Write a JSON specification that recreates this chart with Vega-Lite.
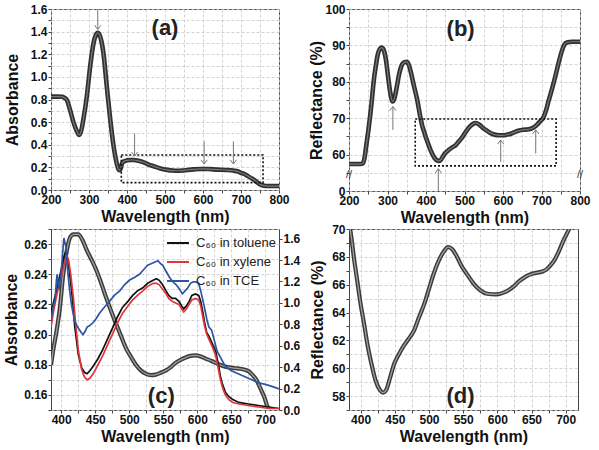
{
  "$schema": "https://vega.github.io/schema/vega-lite/v6.json",
  "background": "white",
  "padding": {"left": 3, "top": 2, "right": 4, "bottom": 4},
  "columns": 2,
  "spacing": {"row": 38, "column": 70},
  "bounds": "flush",
  "resolve": {"scale": {"color": "independent"}, "legend": {"color": "independent"}},
  "config": {
    "view": {"stroke": "#444", "strokeWidth": 1},
    "axis": {"labelFont": "Liberation Sans", "labelFontWeight": "bold", "labelFontSize": 12, "labelColor": "#111", "titleFont": "Liberation Sans", "titleFontWeight": "bold", "titleFontSize": 16, "titleColor": "#111", "domain": false, "tickColor": "#444", "tickSize": 3, "labelPadding": 1, "gridColor": "#c8c8c8", "gridDash": [3, 2], "gridWidth": 0.8, "titlePadding": 3, "labelOverlap": false, "labelBound": false, "labelFlush": false},
    "text": {"font": "Liberation Sans"}
  },
  "datasets": {
    "a": [
      {"nm":200,"v":0.825},{"nm":215,"v":0.825},{"nm":230,"v":0.824},{"nm":235,"v":0.815},{"nm":241,"v":0.8},{"nm":250,"v":0.71},{"nm":259,"v":0.6},{"nm":268,"v":0.52},{"nm":274,"v":0.486},{"nm":280,"v":0.53},{"nm":285,"v":0.62},{"nm":294,"v":0.82},{"nm":303,"v":1.09},{"nm":312,"v":1.3},{"nm":318,"v":1.37},{"nm":323,"v":1.39},{"nm":328,"v":1.37},{"nm":333,"v":1.31},{"nm":338,"v":1.21},{"nm":347,"v":0.91},{"nm":356,"v":0.62},{"nm":365,"v":0.38},{"nm":372,"v":0.25},{"nm":378,"v":0.18},{"nm":381,"v":0.175},{"nm":384,"v":0.2},{"nm":387,"v":0.235},{"nm":393,"v":0.255},{"nm":400,"v":0.262},{"nm":410,"v":0.265},{"nm":418,"v":0.265},{"nm":430,"v":0.258},{"nm":444,"v":0.245},{"nm":457,"v":0.225},{"nm":470,"v":0.21},{"nm":488,"v":0.19},{"nm":506,"v":0.178},{"nm":520,"v":0.172},{"nm":532,"v":0.17},{"nm":545,"v":0.172},{"nm":559,"v":0.177},{"nm":575,"v":0.182},{"nm":594,"v":0.186},{"nm":615,"v":0.185},{"nm":638,"v":0.18},{"nm":660,"v":0.177},{"nm":682,"v":0.17},{"nm":692,"v":0.163},{"nm":700,"v":0.152},{"nm":709,"v":0.141},{"nm":717,"v":0.125},{"nm":727,"v":0.105},{"nm":735,"v":0.088},{"nm":742,"v":0.07},{"nm":748,"v":0.055},{"nm":753,"v":0.045},{"nm":761,"v":0.038},{"nm":770,"v":0.035},{"nm":785,"v":0.035},{"nm":800,"v":0.035}
    ],
    "b": [
      {"nm":200,"v":57.4},{"nm":215,"v":57.4},{"nm":230,"v":57.4},{"nm":236,"v":57.6},{"nm":240,"v":58.9},{"nm":245,"v":62.6},{"nm":251,"v":67.2},{"nm":259,"v":74.6},{"nm":264,"v":80},{"nm":269,"v":83.9},{"nm":275,"v":87.6},{"nm":280,"v":89},{"nm":285,"v":89.4},{"nm":290,"v":88.8},{"nm":296,"v":86},{"nm":302,"v":81},{"nm":308,"v":76.5},{"nm":313,"v":74.6},{"nm":318,"v":75.5},{"nm":324,"v":78.5},{"nm":330,"v":82},{"nm":336,"v":84.3},{"nm":344,"v":85.4},{"nm":350,"v":85.5},{"nm":356,"v":84.5},{"nm":362,"v":82},{"nm":370,"v":78.3},{"nm":378,"v":74.6},{"nm":385,"v":70.5},{"nm":390,"v":68.0},{"nm":395,"v":66.3},{"nm":400,"v":64.6},{"nm":405,"v":63.2},{"nm":410,"v":61.7},{"nm":415,"v":60.5},{"nm":422,"v":59.1},{"nm":428,"v":58.45},{"nm":433,"v":58.25},{"nm":438,"v":58.5},{"nm":443,"v":59.3},{"nm":449,"v":60.3},{"nm":456,"v":61.0},{"nm":463,"v":61.6},{"nm":470,"v":62.1},{"nm":478,"v":62.7},{"nm":485,"v":63.6},{"nm":493,"v":64.6},{"nm":500,"v":65.7},{"nm":507,"v":66.8},{"nm":515,"v":67.8},{"nm":522,"v":68.4},{"nm":528,"v":68.7},{"nm":534,"v":68.55},{"nm":540,"v":68.1},{"nm":547,"v":67.4},{"nm":555,"v":66.8},{"nm":565,"v":66.1},{"nm":575,"v":65.6},{"nm":585,"v":65.35},{"nm":598,"v":65.3},{"nm":610,"v":65.45},{"nm":622,"v":65.8},{"nm":632,"v":66.25},{"nm":642,"v":66.6},{"nm":652,"v":66.8},{"nm":666,"v":66.95},{"nm":672,"v":67.1},{"nm":678,"v":67.4},{"nm":684,"v":67.8},{"nm":690,"v":68.4},{"nm":697,"v":69.2},{"nm":704,"v":70.0},{"nm":712,"v":72.2},{"nm":718,"v":74.6},{"nm":727,"v":77.9},{"nm":735,"v":81.1},{"nm":744,"v":85.0},{"nm":753,"v":88.5},{"nm":760,"v":90.3},{"nm":766,"v":90.8},{"nm":780,"v":91.0},{"nm":800,"v":91.0}
    ],
    "d": [
      {"nm":384,"v":70.2},{"nm":387,"v":69.2},{"nm":390,"v":68.0},{"nm":395,"v":66.3},{"nm":400,"v":64.6},{"nm":405,"v":63.2},{"nm":410,"v":61.7},{"nm":415,"v":60.5},{"nm":422,"v":59.1},{"nm":428,"v":58.45},{"nm":433,"v":58.25},{"nm":438,"v":58.5},{"nm":443,"v":59.3},{"nm":449,"v":60.3},{"nm":456,"v":61.0},{"nm":463,"v":61.6},{"nm":470,"v":62.1},{"nm":478,"v":62.7},{"nm":485,"v":63.6},{"nm":493,"v":64.6},{"nm":500,"v":65.7},{"nm":507,"v":66.8},{"nm":515,"v":67.8},{"nm":522,"v":68.4},{"nm":528,"v":68.7},{"nm":534,"v":68.55},{"nm":540,"v":68.1},{"nm":547,"v":67.4},{"nm":555,"v":66.8},{"nm":565,"v":66.1},{"nm":575,"v":65.6},{"nm":585,"v":65.35},{"nm":598,"v":65.3},{"nm":610,"v":65.45},{"nm":622,"v":65.8},{"nm":632,"v":66.25},{"nm":642,"v":66.6},{"nm":652,"v":66.8},{"nm":666,"v":66.95},{"nm":672,"v":67.1},{"nm":678,"v":67.4},{"nm":684,"v":67.8},{"nm":690,"v":68.4},{"nm":697,"v":69.2},{"nm":704,"v":69.9},{"nm":710,"v":70.6}
    ],
    "cg": [
      {"nm":385,"v":0.42},{"nm":388,"v":0.55},{"nm":393,"v":0.73},{"nm":398,"v":0.95},{"nm":403,"v":1.27},{"nm":408,"v":1.48},{"nm":413,"v":1.61},{"nm":418,"v":1.64},{"nm":425,"v":1.64},{"nm":431,"v":1.59},{"nm":437,"v":1.5},{"nm":444,"v":1.41},{"nm":452,"v":1.3},{"nm":459,"v":1.18},{"nm":466,"v":1.05},{"nm":473,"v":0.93},{"nm":481,"v":0.8},{"nm":488,"v":0.69},{"nm":495,"v":0.58},{"nm":503,"v":0.49},{"nm":510,"v":0.42},{"nm":517,"v":0.37},{"nm":524,"v":0.34},{"nm":532,"v":0.325},{"nm":539,"v":0.33},{"nm":547,"v":0.35},{"nm":554,"v":0.37},{"nm":561,"v":0.4},{"nm":568,"v":0.44},{"nm":576,"v":0.47},{"nm":583,"v":0.49},{"nm":590,"v":0.505},{"nm":597,"v":0.51},{"nm":605,"v":0.5},{"nm":612,"v":0.48},{"nm":620,"v":0.46},{"nm":627,"v":0.44},{"nm":634,"v":0.42},{"nm":641,"v":0.405},{"nm":649,"v":0.395},{"nm":656,"v":0.39},{"nm":663,"v":0.385},{"nm":670,"v":0.375},{"nm":676,"v":0.36},{"nm":682,"v":0.32},{"nm":687,"v":0.28},{"nm":690,"v":0.24},{"nm":695,"v":0.17},{"nm":699,"v":0.11},{"nm":702,"v":0.05},{"nm":704,"v":0.02}
    ],
    "c": [
      {"series":"toluene","nm":385,"v":0.214},{"series":"toluene","nm":389,"v":0.222},{"series":"toluene","nm":393,"v":0.229},{"series":"toluene","nm":397,"v":0.237},{"series":"toluene","nm":401,"v":0.245},{"series":"toluene","nm":404,"v":0.252},{"series":"toluene","nm":407,"v":0.255},{"series":"toluene","nm":410,"v":0.249},{"series":"toluene","nm":413,"v":0.238},{"series":"toluene","nm":416,"v":0.226},{"series":"toluene","nm":420,"v":0.205},{"series":"toluene","nm":425,"v":0.187},{"series":"toluene","nm":430,"v":0.178},{"series":"toluene","nm":434,"v":0.175},{"series":"toluene","nm":438,"v":0.174},{"series":"toluene","nm":442,"v":0.176},{"series":"toluene","nm":447,"v":0.179},{"series":"toluene","nm":454,"v":0.184},{"series":"toluene","nm":461,"v":0.19},{"series":"toluene","nm":468,"v":0.197},{"series":"toluene","nm":476,"v":0.205},{"series":"toluene","nm":483,"v":0.212},{"series":"toluene","nm":490,"v":0.218},{"series":"toluene","nm":498,"v":0.222},{"series":"toluene","nm":505,"v":0.226},{"series":"toluene","nm":512,"v":0.229},{"series":"toluene","nm":520,"v":0.231},{"series":"toluene","nm":527,"v":0.234},{"series":"toluene","nm":535,"v":0.236},{"series":"toluene","nm":540,"v":0.237},{"series":"toluene","nm":544,"v":0.236},{"series":"toluene","nm":549,"v":0.233},{"series":"toluene","nm":554,"v":0.229},{"series":"toluene","nm":558,"v":0.226},{"series":"toluene","nm":563,"v":0.224},{"series":"toluene","nm":568,"v":0.224},{"series":"toluene","nm":573,"v":0.222},{"series":"toluene","nm":577,"v":0.219},{"series":"toluene","nm":580,"v":0.217},{"series":"toluene","nm":584,"v":0.219},{"series":"toluene","nm":588,"v":0.222},{"series":"toluene","nm":592,"v":0.226},{"series":"toluene","nm":597,"v":0.227},{"series":"toluene","nm":602,"v":0.226},{"series":"toluene","nm":605,"v":0.222},{"series":"toluene","nm":608,"v":0.215},{"series":"toluene","nm":611,"v":0.207},{"series":"toluene","nm":614,"v":0.201},{"series":"toluene","nm":617,"v":0.199},{"series":"toluene","nm":622,"v":0.194},{"series":"toluene","nm":627,"v":0.189},{"series":"toluene","nm":631,"v":0.18},{"series":"toluene","nm":634,"v":0.172},{"series":"toluene","nm":637,"v":0.167},{"series":"toluene","nm":641,"v":0.162},{"series":"toluene","nm":646,"v":0.159},{"series":"toluene","nm":652,"v":0.157},{"series":"toluene","nm":661,"v":0.155},{"series":"toluene","nm":675,"v":0.154},{"series":"toluene","nm":690,"v":0.153},{"series":"toluene","nm":705,"v":0.152},{"series":"toluene","nm":720,"v":0.151},
      {"series":"xylene","nm":385,"v":0.205},{"series":"xylene","nm":389,"v":0.216},{"series":"xylene","nm":393,"v":0.225},{"series":"xylene","nm":397,"v":0.233},{"series":"xylene","nm":401,"v":0.24},{"series":"xylene","nm":405,"v":0.248},{"series":"xylene","nm":408,"v":0.253},{"series":"xylene","nm":411,"v":0.249},{"series":"xylene","nm":414,"v":0.24},{"series":"xylene","nm":418,"v":0.224},{"series":"xylene","nm":421,"v":0.208},{"series":"xylene","nm":425,"v":0.19},{"series":"xylene","nm":430,"v":0.177},{"series":"xylene","nm":434,"v":0.172},{"series":"xylene","nm":438,"v":0.17},{"series":"xylene","nm":442,"v":0.171},{"series":"xylene","nm":447,"v":0.174},{"series":"xylene","nm":454,"v":0.18},{"series":"xylene","nm":461,"v":0.186},{"series":"xylene","nm":468,"v":0.193},{"series":"xylene","nm":476,"v":0.201},{"series":"xylene","nm":483,"v":0.208},{"series":"xylene","nm":490,"v":0.214},{"series":"xylene","nm":498,"v":0.219},{"series":"xylene","nm":505,"v":0.223},{"series":"xylene","nm":512,"v":0.226},{"series":"xylene","nm":520,"v":0.229},{"series":"xylene","nm":527,"v":0.232},{"series":"xylene","nm":535,"v":0.234},{"series":"xylene","nm":540,"v":0.234},{"series":"xylene","nm":544,"v":0.233},{"series":"xylene","nm":549,"v":0.23},{"series":"xylene","nm":554,"v":0.227},{"series":"xylene","nm":558,"v":0.224},{"series":"xylene","nm":563,"v":0.222},{"series":"xylene","nm":568,"v":0.221},{"series":"xylene","nm":573,"v":0.22},{"series":"xylene","nm":577,"v":0.217},{"series":"xylene","nm":580,"v":0.215},{"series":"xylene","nm":584,"v":0.217},{"series":"xylene","nm":588,"v":0.22},{"series":"xylene","nm":592,"v":0.223},{"series":"xylene","nm":597,"v":0.224},{"series":"xylene","nm":602,"v":0.223},{"series":"xylene","nm":605,"v":0.219},{"series":"xylene","nm":608,"v":0.212},{"series":"xylene","nm":611,"v":0.205},{"series":"xylene","nm":614,"v":0.2},{"series":"xylene","nm":617,"v":0.197},{"series":"xylene","nm":622,"v":0.192},{"series":"xylene","nm":627,"v":0.186},{"series":"xylene","nm":631,"v":0.177},{"series":"xylene","nm":634,"v":0.17},{"series":"xylene","nm":637,"v":0.165},{"series":"xylene","nm":641,"v":0.16},{"series":"xylene","nm":646,"v":0.157},{"series":"xylene","nm":652,"v":0.155},{"series":"xylene","nm":661,"v":0.154},{"series":"xylene","nm":675,"v":0.153},{"series":"xylene","nm":690,"v":0.152},{"series":"xylene","nm":705,"v":0.151},{"series":"xylene","nm":720,"v":0.151},
      {"series":"TCE","nm":385,"v":0.209},{"series":"TCE","nm":388,"v":0.218},{"series":"TCE","nm":391,"v":0.223},{"series":"TCE","nm":393,"v":0.236},{"series":"TCE","nm":394,"v":0.24},{"series":"TCE","nm":396,"v":0.232},{"series":"TCE","nm":397,"v":0.231},{"series":"TCE","nm":399,"v":0.238},{"series":"TCE","nm":401,"v":0.247},{"series":"TCE","nm":403,"v":0.259},{"series":"TCE","nm":404,"v":0.264},{"series":"TCE","nm":405,"v":0.262},{"series":"TCE","nm":407,"v":0.258},{"series":"TCE","nm":408,"v":0.25},{"series":"TCE","nm":410,"v":0.24},{"series":"TCE","nm":412,"v":0.231},{"series":"TCE","nm":415,"v":0.22},{"series":"TCE","nm":418,"v":0.213},{"series":"TCE","nm":420,"v":0.209},{"series":"TCE","nm":424,"v":0.205},{"series":"TCE","nm":427,"v":0.203},{"series":"TCE","nm":430,"v":0.201},{"series":"TCE","nm":432,"v":0.2},{"series":"TCE","nm":435,"v":0.202},{"series":"TCE","nm":438,"v":0.205},{"series":"TCE","nm":442,"v":0.206},{"series":"TCE","nm":447,"v":0.208},{"series":"TCE","nm":452,"v":0.211},{"series":"TCE","nm":456,"v":0.214},{"series":"TCE","nm":463,"v":0.218},{"series":"TCE","nm":471,"v":0.222},{"series":"TCE","nm":478,"v":0.226},{"series":"TCE","nm":486,"v":0.229},{"series":"TCE","nm":493,"v":0.233},{"series":"TCE","nm":500,"v":0.236},{"series":"TCE","nm":508,"v":0.238},{"series":"TCE","nm":515,"v":0.24},{"series":"TCE","nm":521,"v":0.243},{"series":"TCE","nm":527,"v":0.246},{"series":"TCE","nm":532,"v":0.247},{"series":"TCE","nm":537,"v":0.248},{"series":"TCE","nm":542,"v":0.249},{"series":"TCE","nm":546,"v":0.247},{"series":"TCE","nm":549,"v":0.246},{"series":"TCE","nm":554,"v":0.242},{"series":"TCE","nm":559,"v":0.238},{"series":"TCE","nm":564,"v":0.235},{"series":"TCE","nm":569,"v":0.233},{"series":"TCE","nm":574,"v":0.23},{"series":"TCE","nm":578,"v":0.227},{"series":"TCE","nm":582,"v":0.229},{"series":"TCE","nm":586,"v":0.231},{"series":"TCE","nm":590,"v":0.234},{"series":"TCE","nm":594,"v":0.235},{"series":"TCE","nm":598,"v":0.235},{"series":"TCE","nm":602,"v":0.234},{"series":"TCE","nm":605,"v":0.229},{"series":"TCE","nm":610,"v":0.219},{"series":"TCE","nm":614,"v":0.21},{"series":"TCE","nm":617,"v":0.205},{"series":"TCE","nm":621,"v":0.203},{"series":"TCE","nm":625,"v":0.196},{"series":"TCE","nm":629,"v":0.189},{"series":"TCE","nm":635,"v":0.184},{"series":"TCE","nm":641,"v":0.179},{"series":"TCE","nm":650,"v":0.176},{"series":"TCE","nm":665,"v":0.173},{"series":"TCE","nm":680,"v":0.17},{"series":"TCE","nm":690,"v":0.168},{"series":"TCE","nm":700,"v":0.167},{"series":"TCE","nm":714,"v":0.165},{"series":"TCE","nm":720,"v":0.164}
    ]
  },
  "concat": [
    {
      "width": 228, "height": 181,
      "layer": [
        {
          "data": {"name": "a"},
          "mark": {"type": "line", "interpolate": "monotone", "color": "#303030", "strokeWidth": 4.6, "clip": true},
          "encoding": {
            "x": {"field": "nm", "type": "quantitative", "scale": {"domain": [200, 800], "nice": false, "zero": false},
                  "axis": {"title": "Wavelength (nm)", "values": [200,250,300,350,400,450,500,550,600,650,700,750,800], "tickCount": 60, "labelExpr": "datum.value % 100 == 0 ? format(datum.value, 'd') : ''", "grid": true, "labelOverlap": false}},
            "y": {"field": "v", "type": "quantitative", "scale": {"domain": [0, 1.6], "nice": false, "zero": false},
                  "axis": {"title": "Absorbance", "values": [0,0.1,0.2,0.3,0.4,0.5,0.6,0.7,0.8,0.9,1.0,1.1,1.2,1.3,1.4,1.5,1.6], "tickCount": 60, "labelExpr": "round(datum.value*10) % 2 == 0 ? format(datum.value, '.1f') : ''", "grid": true, "titlePadding": 10, "labelOverlap": false}}
          }
        },
        {
          "data": {"name": "a"},
          "mark": {"type": "line", "interpolate": "monotone", "color": "#7a7a7a", "strokeWidth": 1.2, "clip": true},
          "encoding": {"x": {"field": "nm", "type": "quantitative"}, "y": {"field": "v", "type": "quantitative"}}
        },
        {
          "data": {"values": [{"nm": 385, "nm2": 758, "v": 0.065, "v2": 0.31}]},
          "mark": {"type": "rect", "fill": null, "fillOpacity": 0, "stroke": "#111", "strokeWidth": 1.6, "strokeDash": [2, 2]},
          "encoding": {"x": {"field": "nm", "type": "quantitative"}, "x2": {"field": "nm2"}, "y": {"field": "v", "type": "quantitative"}, "y2": {"field": "v2"}}
        },
        {
          "data": {"values": [{"nm": 323, "v": 1.6, "v2": 1.42}, {"nm": 420, "v": 0.5, "v2": 0.3}, {"nm": 603, "v": 0.43, "v2": 0.23}, {"nm": 680, "v": 0.43, "v2": 0.23}]},
          "layer": [
            {"mark": {"type": "rule", "color": "#777", "strokeWidth": 1}, "encoding": {"x": {"field": "nm", "type": "quantitative"}, "y": {"field": "v", "type": "quantitative"}, "y2": {"field": "v2"}}},
            {"mark": {"type": "point", "shape": "M-1,-1.3L0,0L1,-1.3", "filled": false, "color": "#777", "size": 40, "strokeWidth": 1, "opacity": 1}, "encoding": {"x": {"field": "nm", "type": "quantitative"}, "y": {"field": "v2", "type": "quantitative"}}}
          ]
        },
        {
          "data": {"values": [{"nm": 500, "v": 1.43, "t": "(a)"}]},
          "mark": {"type": "text", "fontSize": 22, "fontWeight": "bold", "color": "#222", "align": "center", "baseline": "middle"},
          "encoding": {"x": {"field": "nm", "type": "quantitative"}, "y": {"field": "v", "type": "quantitative"}, "text": {"field": "t", "type": "nominal"}}
        }
      ]
    },
    {
      "width": 231, "height": 182,
      "layer": [
        {
          "data": {"name": "b"},
          "mark": {"type": "line", "interpolate": "monotone", "color": "#303030", "strokeWidth": 4.6, "clip": true},
          "encoding": {
            "x": {"field": "nm", "type": "quantitative", "scale": {"domain": [200, 800], "nice": false, "zero": false},
                  "axis": {"title": "Wavelength (nm)", "values": [200,250,300,350,400,450,500,550,600,650,700,750,800], "tickCount": 60, "labelExpr": "datum.value % 100 == 0 ? format(datum.value, 'd') : ''", "grid": true, "labelOverlap": false}},
            "y": {"field": "v", "type": "quantitative", "scale": {"domain": [50, 100], "nice": false, "zero": false},
                  "axis": {"title": "Reflectance (%)", "values": [50,55,60,65,70,75,80,85,90,95,100], "tickCount": 60, "labelExpr": "datum.value == 50 ? '0' : (datum.value % 10 == 0 ? format(datum.value, 'd') : '')", "grid": true, "titlePadding": 0, "labelOverlap": false}}
          }
        },
        {
          "data": {"name": "b"},
          "mark": {"type": "line", "interpolate": "monotone", "color": "#7a7a7a", "strokeWidth": 1.2, "clip": true},
          "encoding": {"x": {"field": "nm", "type": "quantitative"}, "y": {"field": "v", "type": "quantitative"}}
        },
        {
          "data": {"values": [{"nm": 372, "nm2": 738, "v": 56.9, "v2": 69.8}]},
          "mark": {"type": "rect", "fill": null, "fillOpacity": 0, "stroke": "#111", "strokeWidth": 1.6, "strokeDash": [2, 2]},
          "encoding": {"x": {"field": "nm", "type": "quantitative"}, "x2": {"field": "nm2"}, "y": {"field": "v", "type": "quantitative"}, "y2": {"field": "v2"}}
        },
        {
          "data": {"values": [{"nm": 314, "v": 66.8, "v2": 73.2}, {"nm": 432, "v": 50, "v2": 56.1}, {"nm": 594, "v": 58, "v2": 64}, {"nm": 685, "v": 60.3, "v2": 66.8}]},
          "layer": [
            {"mark": {"type": "rule", "color": "#777", "strokeWidth": 1}, "encoding": {"x": {"field": "nm", "type": "quantitative"}, "y": {"field": "v", "type": "quantitative"}, "y2": {"field": "v2"}}},
            {"mark": {"type": "point", "shape": "M-1,1.3L0,0L1,1.3", "filled": false, "color": "#777", "size": 40, "strokeWidth": 1, "opacity": 1}, "encoding": {"x": {"field": "nm", "type": "quantitative"}, "y": {"field": "v2", "type": "quantitative"}}}
          ]
        },
        {
          "data": {"values": [{"nm": 200, "v": 54.5, "t": "//"}, {"nm": 800, "v": 54.5, "t": "//"}]},
          "mark": {"type": "text", "fontSize": 11, "color": "#333", "align": "center", "baseline": "middle"},
          "encoding": {"x": {"field": "nm", "type": "quantitative"}, "y": {"field": "v", "type": "quantitative"}, "text": {"field": "t", "type": "nominal"}}
        },
        {
          "data": {"values": [{"nm": 490, "v": 94.5, "t": "(b)"}]},
          "mark": {"type": "text", "fontSize": 22, "fontWeight": "bold", "color": "#222", "align": "center", "baseline": "middle"},
          "encoding": {"x": {"field": "nm", "type": "quantitative"}, "y": {"field": "v", "type": "quantitative"}, "text": {"field": "t", "type": "nominal"}}
        }
      ]
    },
    {
      "width": 228, "height": 181,
      "layer": [
        {
          "layer": [
            {
              "data": {"name": "cg"},
              "mark": {"type": "line", "interpolate": "monotone", "color": "#3a3a3a", "strokeWidth": 4.2, "clip": true},
              "encoding": {
                "x": {"field": "nm", "type": "quantitative", "scale": {"domain": [385, 720], "nice": false, "zero": false},
                      "axis": {"title": "Wavelength (nm)", "values": [400,425,450,475,500,525,550,575,600,625,650,675,700], "tickCount": 60, "labelExpr": "datum.value % 50 == 0 ? format(datum.value, 'd') : ''", "grid": true, "labelOverlap": false}},
                "y": {"field": "v", "type": "quantitative", "scale": {"domain": [0, 1.69], "nice": false, "zero": false},
                      "axis": {"orient": "right", "title": null, "values": [0,0.2,0.4,0.6,0.8,1.0,1.2,1.4,1.6], "tickCount": 60, "labelExpr": "format(datum.value, '.1f')", "grid": false, "labelOverlap": false}}
              }
            },
            {
              "data": {"name": "cg"},
              "mark": {"type": "line", "interpolate": "monotone", "color": "#a0a0a0", "strokeWidth": 1.3, "clip": true},
              "encoding": {"x": {"field": "nm", "type": "quantitative"}, "y": {"field": "v", "type": "quantitative"}}
            }
          ]
        },
        {
          "layer": [
            {
              "data": {"name": "c"},
              "mark": {"type": "line", "strokeWidth": 1.7, "clip": true},
              "encoding": {
                "x": {"field": "nm", "type": "quantitative"},
                "y": {"field": "v", "type": "quantitative", "scale": {"domain": [0.15, 0.27], "nice": false, "zero": false},
                      "axis": {"orient": "left", "title": "Absorbance", "values": [0.15,0.16,0.17,0.18,0.19,0.2,0.21,0.22,0.23,0.24,0.25,0.26,0.27], "tickCount": 60, "labelExpr": "round(datum.value*100) % 2 == 0 ? format(datum.value, '.2f') : ''", "grid": true, "titlePadding": 4, "labelOverlap": false}},
                "color": {"field": "series", "type": "nominal",
                          "scale": {"domain": ["toluene", "xylene", "TCE"], "range": ["#111111", "#e0353a", "#2c55a2"]},
                          "legend": {"title": null, "orient": "top-right", "offset": 2, "labelExpr": "'C₆₀ in ' + datum.label", "symbolType": "stroke", "symbolSize": 480, "symbolStrokeWidth": 2, "labelFont": "Liberation Sans", "labelFontSize": 13, "labelColor": "#222", "rowPadding": 0, "padding": 0, "labelOffset": 6}}
              }
            },
            {
              "data": {"values": [{"nm": 547, "v": 0.159, "t": "(c)"}]},
              "mark": {"type": "text", "fontSize": 22, "fontWeight": "bold", "color": "#222", "align": "center", "baseline": "middle"},
              "encoding": {"x": {"field": "nm", "type": "quantitative"}, "y": {"field": "v", "type": "quantitative"}, "text": {"field": "t", "type": "nominal"}}
            }
          ]
        }
      ],
      "resolve": {"scale": {"y": "independent"}}
    },
    {
      "width": 229, "height": 181,
      "layer": [
        {
          "data": {"name": "d"},
          "mark": {"type": "line", "interpolate": "monotone", "color": "#3a3a3a", "strokeWidth": 4.2, "clip": true},
          "encoding": {
            "x": {"field": "nm", "type": "quantitative", "scale": {"domain": [383, 718], "nice": false, "zero": false},
                  "axis": {"title": "Wavelength (nm)", "values": [400,425,450,475,500,525,550,575,600,625,650,675,700], "tickCount": 60, "labelExpr": "datum.value % 50 == 0 ? format(datum.value, 'd') : ''", "grid": true, "labelOverlap": false}},
            "y": {"field": "v", "type": "quantitative", "scale": {"domain": [57, 70], "nice": false, "zero": false},
                  "axis": {"title": "Reflectance (%)", "values": [57,58,59,60,61,62,63,64,65,66,67,68,69,70], "tickCount": 60, "labelExpr": "datum.value % 2 == 0 ? format(datum.value, 'd') : ''", "grid": true, "titlePadding": 6, "labelOverlap": false}}
          }
        },
        {
          "data": {"name": "d"},
          "mark": {"type": "line", "interpolate": "monotone", "color": "#a0a0a0", "strokeWidth": 1.3, "clip": true},
          "encoding": {"x": {"field": "nm", "type": "quantitative"}, "y": {"field": "v", "type": "quantitative"}}
        },
        {
          "data": {"values": [{"nm": 546, "v": 58.0, "t": "(d)"}]},
          "mark": {"type": "text", "fontSize": 22, "fontWeight": "bold", "color": "#222", "align": "center", "baseline": "middle"},
          "encoding": {"x": {"field": "nm", "type": "quantitative"}, "y": {"field": "v", "type": "quantitative"}, "text": {"field": "t", "type": "nominal"}}
        }
      ]
    }
  ]
}
